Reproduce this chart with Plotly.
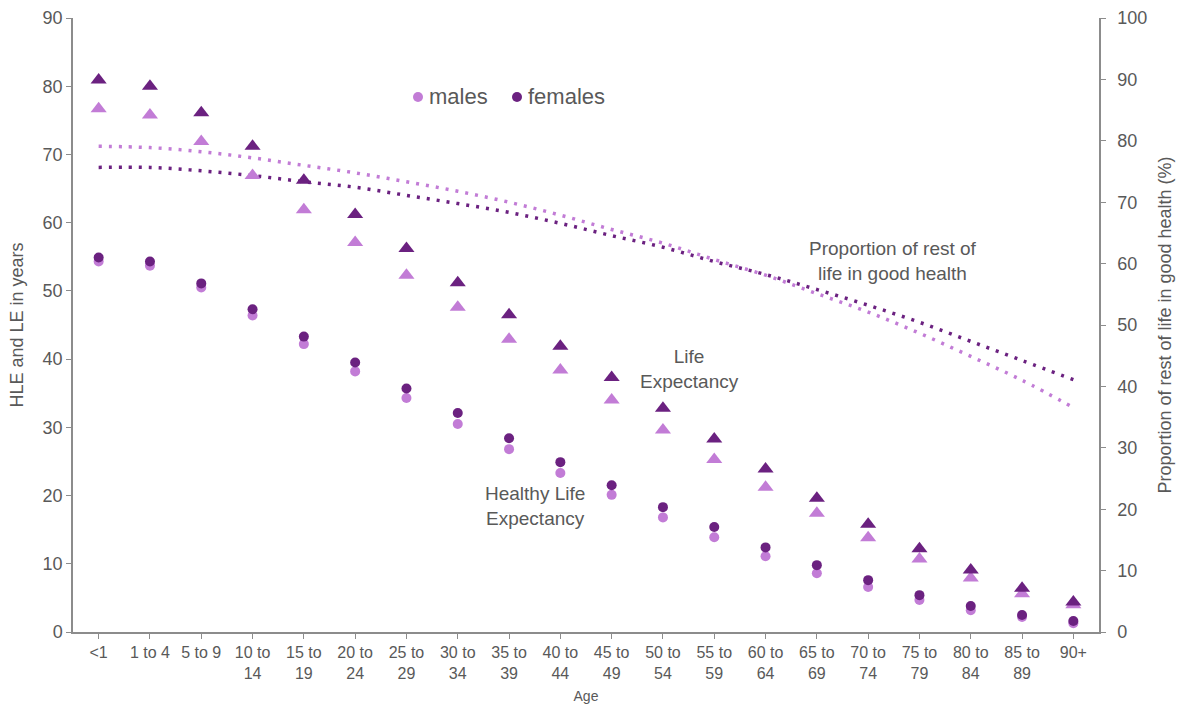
import plotly.graph_objects as go

# Age bands
ages = ["&lt;1", "1 to 4", "5 to 9", "10 to<br>14", "15 to<br>19", "20 to<br>24",
        "25 to<br>29", "30 to<br>34", "35 to<br>39", "40 to<br>44", "45 to<br>49",
        "50 to<br>54", "55 to<br>59", "60 to<br>64", "65 to<br>69", "70 to<br>74",
        "75 to<br>79", "80 to<br>84", "85 to<br>89", "90+"]

# Life expectancy (years)
le_males = [76.7, 75.8, 71.9, 66.9, 61.9, 57.1, 52.3, 47.6, 42.9, 38.4,
            34.0, 29.6, 25.3, 21.2, 17.4, 13.8, 10.7, 7.9, 5.6, 4.0]
le_females = [80.9, 80.0, 76.1, 71.2, 66.2, 61.2, 56.2, 51.2, 46.5, 41.9,
              37.3, 32.8, 28.3, 23.9, 19.6, 15.8, 12.2, 9.1, 6.4, 4.4]

# Healthy life expectancy (years)
hle_males = [54.3, 53.7, 50.5, 46.4, 42.2, 38.2, 34.3, 30.5, 26.8, 23.3,
             20.1, 16.8, 13.9, 11.1, 8.6, 6.6, 4.7, 3.2, 2.2, 1.3]
hle_females = [54.9, 54.3, 51.1, 47.3, 43.3, 39.5, 35.7, 32.1, 28.4, 24.9,
               21.5, 18.3, 15.4, 12.4, 9.8, 7.6, 5.4, 3.8, 2.5, 1.6]

# Proportion of remaining life in good health (%)
prop_males = [71.2, 71.0, 70.4, 69.5, 68.4, 67.3, 66.0, 64.6, 63.0, 61.1,
              59.0, 57.0, 54.6, 52.3, 49.6, 46.9, 43.8, 40.4, 36.9, 32.9]
prop_females = [68.1, 68.1, 67.6, 66.9, 66.0, 65.2, 64.0, 62.8, 61.5, 59.9,
                58.1, 56.4, 54.3, 52.4, 50.2, 47.9, 45.4, 42.6, 39.8, 37.0]

LIGHT = "#C27CD6"
DARK = "#6B2180"
TEXT = "#595959"
AXIS = "#8C8C8C"
FONT = "Liberation Sans, Arial, sans-serif"

x = list(range(len(ages)))

fig = go.Figure()

fig.add_trace(go.Scatter(x=x, y=prop_males, mode="lines", yaxis="y",
                         line=dict(color=LIGHT, width=3.5, dash="3px,7px", shape="spline"),
                         showlegend=False, hoverinfo="skip"))
fig.add_trace(go.Scatter(x=x, y=prop_females, mode="lines", yaxis="y",
                         line=dict(color=DARK, width=3.5, dash="3px,7px", shape="spline"),
                         showlegend=False, hoverinfo="skip"))

fig.add_trace(go.Scatter(x=x, y=le_males, mode="markers", name="males LE",
                         marker=dict(symbol="triangle-up", size=14, color=LIGHT),
                         showlegend=False))
fig.add_trace(go.Scatter(x=x, y=le_females, mode="markers", name="females LE",
                         marker=dict(symbol="triangle-up", size=14, color=DARK),
                         showlegend=False))
fig.add_trace(go.Scatter(x=x, y=hle_males, mode="markers", name="males HLE",
                         marker=dict(symbol="circle", size=10, color=LIGHT),
                         showlegend=False))
fig.add_trace(go.Scatter(x=x, y=hle_females, mode="markers", name="females HLE",
                         marker=dict(symbol="circle", size=10, color=DARK),
                         showlegend=False))

# anchor trace so the secondary percentage axis is drawn
fig.add_trace(go.Scatter(x=[x[0]], y=[0], yaxis="y2", mode="markers",
                         marker=dict(opacity=0), showlegend=False, hoverinfo="skip"))

L, R, T, B = 73, 85, 18, 74
W, H = 1184, 706
pw, ph = W - L - R, H - T - B


def px(xp):
    return (xp - L) / pw


def py(yp):
    return (H - B - yp) / ph


annotations = [
    dict(text="Proportion of rest of<br>life in good health", x=px(893), y=py(261)),
    dict(text="Life<br>Expectancy", x=px(689), y=py(369)),
    dict(text="Healthy Life<br>Expectancy", x=px(535), y=py(506)),
]
for a in annotations:
    a.update(xref="paper", yref="paper", showarrow=False, xanchor="center", yanchor="middle",
             font=dict(family=FONT, size=19, color=TEXT), align="center")

# legend
legend_items = [("males", LIGHT, 418), ("females", DARK, 517)]
shapes = []
for label, col, cx in legend_items:
    shapes.append(dict(type="circle", xref="paper", yref="paper",
                       xsizemode="pixel", ysizemode="pixel",
                       xanchor=px(cx), yanchor=py(97), x0=-5, x1=5, y0=-5, y1=5,
                       fillcolor=col, line=dict(width=0)))
    annotations.append(dict(text=label, xref="paper", yref="paper", x=px(cx + 9), y=py(97),
                            xanchor="left", yanchor="middle", showarrow=False,
                            font=dict(family=FONT, size=22, color=TEXT)))

fig.update_layout(
    width=W, height=H,
    margin=dict(l=L, r=R, t=T, b=B, autoexpand=False),
    paper_bgcolor="white", plot_bgcolor="white",
    font=dict(family=FONT, color=TEXT),
    showlegend=False,
    xaxis=dict(
        range=[-0.5, 19.5], tickmode="array", tickvals=x, ticktext=ages,
        showline=True, linecolor=AXIS, linewidth=1.5, ticks="outside", ticklen=5,
        tickcolor=AXIS, showgrid=False, zeroline=False, automargin=False,
        tickfont=dict(family=FONT, size=16, color=TEXT),
        title=dict(text="Age", font=dict(family=FONT, size=14, color=TEXT), standoff=10),
    ),
    yaxis=dict(
        range=[0, 90], dtick=10, showline=True, linecolor=AXIS, linewidth=1.5,
        ticks="outside", ticklen=5, tickcolor=AXIS, showgrid=False, zeroline=False,
        automargin=False,
        tickfont=dict(family=FONT, size=18, color=TEXT),
        title=dict(text="HLE and LE in years", font=dict(family=FONT, size=18, color=TEXT),
                   standoff=14),
    ),
    yaxis2=dict(
        range=[0, 100], dtick=10, overlaying="y", side="right", showline=True,
        linecolor=AXIS, linewidth=1.5, ticks="outside", ticklen=5, tickcolor=AXIS,
        showgrid=False, zeroline=False, automargin=False, ticklabelstandoff=8,
        tickfont=dict(family=FONT, size=18, color=TEXT),
        title=dict(text="Proportion of rest of life in good health (%)",
                   font=dict(family=FONT, size=18, color=TEXT), standoff=12),
    ),
    annotations=annotations,
    shapes=shapes,
)

fig.write_html("out.html")
